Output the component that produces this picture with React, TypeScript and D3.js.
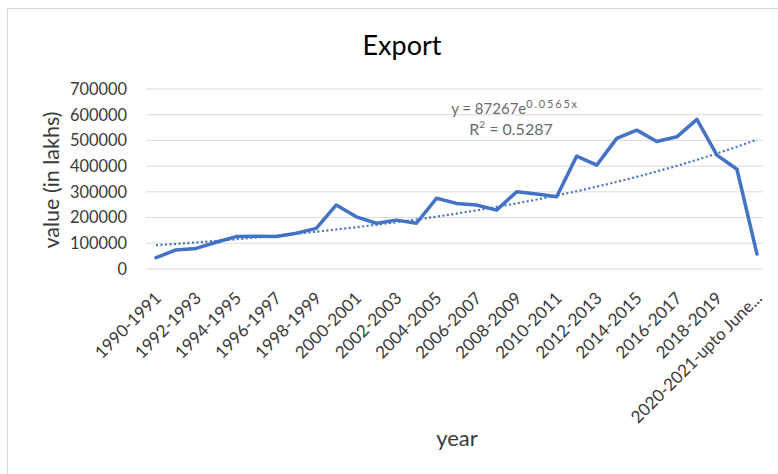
import React from "react";
import * as d3 from "d3";

const categories: string[] = [
  "1990-1991","1991-1992","1992-1993","1993-1994","1994-1995","1995-1996","1996-1997","1997-1998",
  "1998-1999","1999-2000","2000-2001","2001-2002","2002-2003","2003-2004","2004-2005","2005-2006",
  "2006-2007","2007-2008","2008-2009","2009-2010","2010-2011","2011-2012","2012-2013","2013-2014",
  "2014-2015","2015-2016","2016-2017","2017-2018","2018-2019","2019-2020","2020-2021-upto June..."
];
const exportValues: number[] = [
  44000, 74000, 80000, 104000, 126000, 127000, 126000, 139000,
  158000, 249000, 203000, 178000, 190000, 178000, 275000, 255000,
  249000, 229000, 300000, 292000, 281000, 439000, 404000, 508000,
  540000, 496000, 514000, 582000, 443000, 388000, 58000
];
const yTicks: number[] = [0, 100000, 200000, 300000, 400000, 500000, 600000, 700000];
const trendA = 87267;
const trendB = 0.0565;
const trendEquation = "y = 87267e";
const trendExponent = "0.0565x";
const trendR2 = "0.5287";

const W = 778, H = 474;
const M = { left: 146, right: 767, top: 89, bottom: 269 };
const FONT = "Lato, 'Open Sans', sans-serif";
const BLUE = "#4472C4";

export default function App() {
  const x = d3.scaleBand<string>().domain(categories).range([M.left, M.right]);
  const xc = (c: string) => (x(c) as number) + x.bandwidth() / 2;
  const y = d3.scaleLinear().domain([0, 700000]).range([M.bottom, M.top]);

  const line = d3.line<number>()
    .x((_, i) => xc(categories[i]))
    .y((d) => y(d));
  const trendVals = categories.map((_, i) => trendA * Math.exp(trendB * (i + 1)));

  return (
    <svg width={W} height={H} style={{ position: "absolute", left: 0, top: 0, background: "#fff" }}>
      <rect x={7.5} y={8.5} width={W + 20} height={H + 20} fill="#fff" stroke="#d9d9d9" strokeWidth={1} />
      <text x={402} y={55} textAnchor="middle" fontFamily={FONT} fontSize={27} fill="#000">Export</text>
      {yTicks.map((t) => (
        <g key={t}>
          <line x1={M.left} x2={M.right - 4} y1={y(t)} y2={y(t)} stroke="#d9d9d9" strokeWidth={1} />
          <text x={127} y={y(t)} dy="0.36em" textAnchor="end" fontFamily={FONT} fontSize={16.4} fill="#3a3a3a">{t}</text>
        </g>
      ))}
      <path d={line(trendVals) || ""} fill="none" stroke={BLUE} strokeWidth={2.2} strokeDasharray="2 2.5" />
      <path d={line(exportValues) || ""} fill="none" stroke={BLUE} strokeWidth={3.5} strokeLinejoin="round" strokeLinecap="round" />
      {categories.map((c, i) => i % 2 === 0 ? (
        <text key={c} transform={`translate(${xc(c) + 2},${295}) rotate(-45)`} textAnchor="end" dy="0.35em"
          fontFamily={FONT} fontSize={17} fill="#3a3a3a">{c}</text>
      ) : null)}
      <text transform={`translate(59,${180}) rotate(-90)`} textAnchor="middle" fontFamily={FONT} fontSize={21.5} fill="#3a3a3a">value (in lakhs)</text>
      <text x={457} y={446} textAnchor="middle" fontFamily={FONT} fontSize={22} fill="#3a3a3a">year</text>
      <text x={515} y={114} textAnchor="middle" fontFamily={FONT} fontSize={15} fill="#6a6a6a">
        {trendEquation}<tspan fontSize={11} dy={-6} letterSpacing={1.8}>{trendExponent}</tspan>
      </text>
      <text x={511} y={135} textAnchor="middle" fontFamily={FONT} fontSize={16} fill="#6a6a6a">
        R<tspan fontSize={10} dy={-7}>2</tspan><tspan dy={7}> = {trendR2}</tspan>
      </text>
    </svg>
  );
}
